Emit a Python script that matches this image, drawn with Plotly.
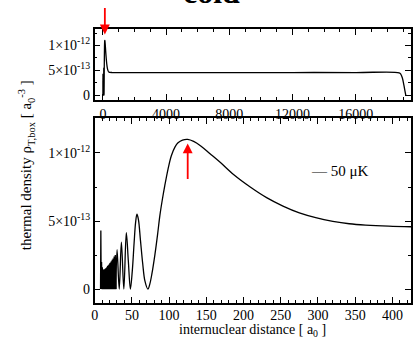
import numpy as np
import plotly.graph_objects as go

UNIT = 1e-13  # density values below are given in units of 1e-13 a0^-3

# Short-range part: rapid oscillations (alternating nodes and crests)
r_inner = [7.9, 8.3, 8.8, 9.3, 9.8, 10.3, 10.8, 11.3, 11.8, 12.3,
           12.8, 13.3, 13.8, 14.3, 14.8, 15.3, 15.8, 16.3, 16.8, 17.3,
           17.8, 18.3, 18.8, 19.3, 19.8, 20.3, 20.8, 21.3, 21.8, 22.4,
           23.0, 23.6, 24.2, 24.8, 25.5, 26.2, 26.9, 27.7, 28.5]
rho_inner = [0, 4.3, 0, 2.0, 0, 1.6, 0, 1.45, 0, 1.4,
             0, 1.45, 0, 1.5, 0, 1.55, 0, 1.6, 0, 1.7,
             0, 1.75, 0, 1.8, 0, 1.9, 0, 1.95, 0, 2.05,
             0, 2.15, 0, 2.25, 0, 2.4, 0, 2.5, 0]

# Outer lobes and the long-range tail
r_outer = [28.5, 30.1, 33.0, 35.9, 39.2, 42.5, 45.2, 48.0, 50.5, 53.0,
           55.0, 56.8, 58.8, 61.5, 64.5, 67.5, 71.5, 74, 77, 81,
           84.5, 87.6, 91, 94.2, 98.5, 103, 108, 112, 118, 125,
           133, 143, 155, 169, 187, 209, 231, 253, 275, 297,
           320, 342, 364, 395, 426]
rho_outer = [0, 2.9, 0, 3.45, 0, 4.15, 2.1, 0, 1.3, 3.4,
             4.9, 5.5, 5.1, 3.6, 1.9, 0.6, 0, 0.35, 1.15, 2.55,
             4.0, 5.4, 6.6, 7.6, 8.8, 9.8, 10.45, 10.75, 10.95, 11.0,
             10.85, 10.5, 9.95, 9.3, 8.4, 7.5, 6.72, 6.1, 5.6, 5.25,
             4.98, 4.8, 4.7, 4.62, 4.58]

# Plateau out to the box wall
r_far = [600, 1500, 4000, 8000, 12000, 16000, 18750, 18850, 18950, 19050, 19120, 19170]
rho_far = [4.55, 4.55, 4.55, 4.55, 4.55, 4.55, 4.5, 4.25, 3.5, 2.0, 0.8, 0]

peak_r = 125          # position of the last maximum (marked by arrows)
peak_rho_top = 12.2   # arrow tip heights
peak_rho_bot = 10.7

x_ticks_full = [0, 4000, 8000, 12000, 16000]
x_ticks_full_text = ["0", "4000", "8000", "12000", "16000"]
x_ticks_zoom = [0, 50, 100, 150, 200, 250, 300, 350, 400]
y_tickvals = [0, 5e-13, 1e-12]
y_ticktext = ["0", "5×10<sup>-13</sup>", "1×10<sup>-12</sup>"]

FONT = "Liberation Serif"
ri, pi = np.array(r_inner), np.array(rho_inner) * UNIT
ro, po = np.array(r_outer), np.array(rho_outer) * UNIT
rf, pf = np.array(r_far), np.array(rho_far) * UNIT

line = dict(color="black", width=1.3, simplify=False)
fig = go.Figure()
# lower panel (short range)
fig.add_trace(go.Scatter(x=ri, y=pi, mode="lines", line=line,
                         xaxis="x", yaxis="y", showlegend=False))
fig.add_trace(go.Scatter(x=ro, y=po, mode="lines", line=dict(line, shape="spline"),
                         xaxis="x", yaxis="y", showlegend=False))
# upper panel (whole box)
fig.add_trace(go.Scatter(x=ri, y=pi, mode="lines", line=line,
                         xaxis="x2", yaxis="y2", showlegend=False))
fig.add_trace(go.Scatter(x=np.concatenate([ro, rf]), y=np.concatenate([po, pf]), mode="lines",
                         line=dict(line, shape="spline"), xaxis="x2", yaxis="y2", showlegend=False))

W, H = 413, 340
xdom = [92 / W, 1.0]
axis_common = dict(showline=True, linecolor="black", linewidth=1.5, mirror="ticks",
                   ticks="inside", ticklen=6, tickwidth=1.2, tickcolor="black",
                   showgrid=False, zeroline=False,
                   tickfont=dict(family=FONT, size=14, color="black"))

fig.update_layout(
    width=W, height=H, margin=dict(l=0, r=0, t=0, b=0),
    paper_bgcolor="white", plot_bgcolor="white",
    xaxis=dict(axis_common, domain=xdom, range=[0, 425], tickmode="array", tickvals=x_ticks_zoom,
               ticklabelstandoff=-2,
               minor=dict(ticks="inside", ticklen=3, tickmode="linear", tick0=0, dtick=10,
                          tickcolor="black", tickwidth=1), anchor="y"),
    yaxis=dict(axis_common, domain=[(H - 305.7) / H, (H - 119.3) / H], range=[-1.02e-13, 1.255e-12],
               tickmode="array", tickvals=y_tickvals, ticktext=y_ticktext,
               minor=dict(ticks="inside", ticklen=3, tickmode="linear", tick0=0, dtick=2.5e-13,
                          tickcolor="black", tickwidth=1), anchor="x"),
    xaxis2=dict(axis_common, domain=xdom, range=[-520, 19500], tickmode="array",
                tickvals=x_ticks_full, ticktext=x_ticks_full_text,
                minor=dict(ticks="inside", ticklen=3, tickmode="linear", tick0=0, dtick=1000,
                           tickcolor="black", tickwidth=1), anchor="y2"),
    yaxis2=dict(axis_common, domain=[(H - 101) / H, (H - 29.3) / H], range=[-1e-13, 1.33e-12],
                tickmode="array", tickvals=y_tickvals, ticktext=y_ticktext,
                minor=dict(ticks="inside", ticklen=3, tickmode="linear", tick0=0, dtick=2.5e-13,
                           tickcolor="black", tickwidth=1), anchor="x2"),
)

arrow = dict(showarrow=True, arrowcolor="red", arrowwidth=1.8, arrowhead=2, arrowsize=1.1,
             standoff=0, text="", ax=0)
fig.add_annotation(arrow, x=peak_r, y=peak_rho_top * UNIT, xref="x2", yref="y2", ay=-28)
fig.add_annotation(arrow, x=peak_r, y=peak_rho_bot * UNIT, xref="x", yref="y", ay=37)

fig.add_annotation(text="<b>cold</b>", x=211 / W, y=1 - 12 / H, xref="paper", yref="paper",
                   xanchor="center", yanchor="bottom", showarrow=False,
                   font=dict(family=FONT, size=32, color="black"))
fig.add_annotation(text="— 50 μK", x=310 / W, y=(H - 173) / H, xref="paper", yref="paper",
                   xanchor="left", yanchor="middle", showarrow=False,
                   font=dict(family=FONT, size=15, color="black"))
fig.add_annotation(text="internuclear distance [ a<sub>0</sub> ]", x=252 / W, y=(H - 333) / H,
                   xref="paper", yref="paper", xanchor="center", yanchor="middle", showarrow=False,
                   font=dict(family=FONT, size=14, color="black"))
fig.add_annotation(text="thermal density ρ<sub>T,box</sub> [ a<sub>0</sub><sup>-3</sup> ]",
                   x=22 / W, y=(H - 167) / H, xref="paper", yref="paper", textangle=-90,
                   xanchor="center", yanchor="middle", showarrow=False,
                   font=dict(family=FONT, size=15, color="black"))

fig.write_html("out.html")
